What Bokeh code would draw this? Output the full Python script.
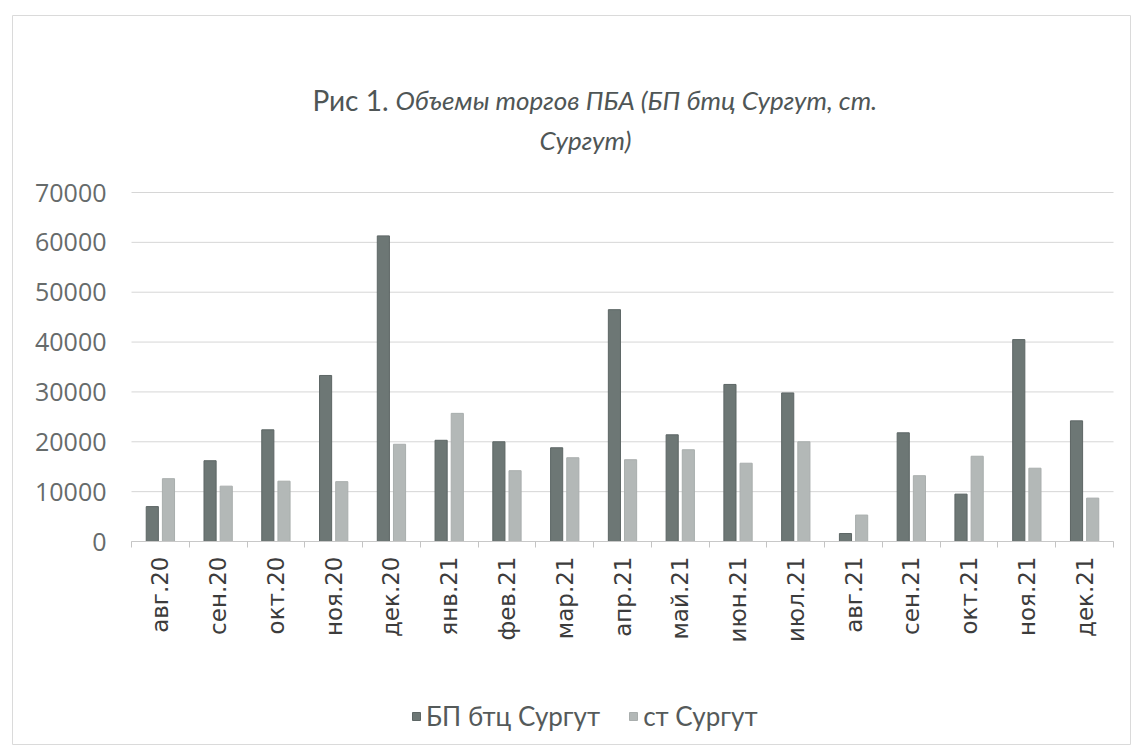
import numpy as np
from bokeh.plotting import figure
from bokeh.models import (ColumnDataSource, Range1d, FixedTicker, Label, Legend, LegendItem)
from bokeh.transform import dodge
from bokeh.embed import file_html
from bokeh.resources import INLINE

# ---- data ----
categories = ["авг.20", "сен.20", "окт.20", "ноя.20", "дек.20", "янв.21", "фев.21", "мар.21",
              "апр.21", "май.21", "июн.21", "июл.21", "авг.21", "сен.21", "окт.21", "ноя.21", "дек.21"]
bp_btc = [7000, 16200, 22400, 33300, 61300, 20300, 20000, 18800, 46500,
          21400, 31500, 29800, 1600, 21800, 9500, 40500, 24200]
st_surgut = [12600, 11100, 12100, 12000, 19500, 25700, 14200, 16800, 16400,
             18400, 15700, 20000, 5300, 13200, 17100, 14700, 8700]
y_ticks = [0, 10000, 20000, 30000, 40000, 50000, 60000, 70000]
series_names = ["БП бтц Сургут", "ст Сургут"]
title_lead = "Рис 1."
title_rest = "Объемы торгов ПБА (БП бтц Сургут, ст."
title_line2 = "Сургут)"

n = len(categories)
ymax = y_ticks[-1]
xpos = list(np.arange(n) + 0.5)
src = ColumnDataSource(dict(x=xpos, cat=categories, bp=bp_btc, st=st_surgut))

# ---- layout (page pixels) ----
FL, FT, FR, FB = 12, 15, 1131, 745      # chart border (= bokeh frame)
PL, PR, PT, PB = 131, 1113, 192, 541    # plot area
px_per_cat = (PR - PL) / n
val_per_px = ymax / (PB - PT)
x_range = Range1d(-(PL - FL) / px_per_cat, n + (FR - PR) / px_per_cat)
y_range = Range1d(-(FB - PB) * val_per_px, ymax + (PT - FT) * val_per_px)

def sx(x):
    return x - FL

def sy(y):
    return FB - y

DARK = "#6d7775"
LIGHT = "#b3b8b7"
TEXT = "#4f5656"

p = figure(width=FR, height=FB, output_backend="svg", toolbar_location=None,
           x_range=x_range, y_range=y_range,
           min_border_left=FL, min_border_top=FT, min_border_right=0, min_border_bottom=0,
           background_fill_color="white", border_fill_color="white")
p.outline_line_color = "#dadada"
p.outline_line_width = 1
p.xgrid.visible = False
p.ygrid.visible = False

# horizontal gridlines across the plot area only
p.segment(x0=0, x1=n, y0=y_ticks, y1=y_ticks, line_color="#d6d6d6", line_width=1)

r1 = p.vbar(x=dodge("x", -0.14, range=p.x_range), top="bp", width=0.21, source=src,
            fill_color=DARK, line_color="#5d6665", line_width=1)
r2 = p.vbar(x=dodge("x", 0.14, range=p.x_range), top="st", width=0.21, source=src,
            fill_color=LIGHT, line_color="#a9aead", line_width=1)

# y axis fixed at the category start
yax = p.yaxis[0]
yax.fixed_location = 0
yax.bounds = (0, ymax)
yax.ticker = FixedTicker(ticks=y_ticks)
yax.axis_line_color = None
yax.major_tick_line_color = None
yax.minor_tick_line_color = None
yax.major_label_standoff = 19
yax.major_label_text_font = "Open Sans"
yax.major_label_text_font_size = "25px"
yax.major_label_text_color = "#666b6b"

# x axis fixed at y = 0: labels at category centres, tick marks between categories
xax = p.xaxis[0]
xax.fixed_location = 0
xax.bounds = (0, n)
xax.ticker = FixedTicker(ticks=xpos, minor_ticks=list(range(n + 1)))
xax.major_label_overrides = {float(xv): c for xv, c in zip(xpos, categories)}
xax.major_tick_line_color = None
xax.major_tick_out = 0
xax.major_tick_in = 0
xax.minor_tick_line_color = "#c4c4c4"
xax.minor_tick_out = 6
xax.minor_tick_in = 0
xax.axis_line_color = "#c8c8c8"
xax.major_label_orientation = np.pi / 2
xax.major_label_standoff = 9
xax.major_label_text_font = "DejaVu Sans"
xax.major_label_text_font_size = "23px"
xax.major_label_text_color = "#3c3c3c"

# title (mixed upright / italic)
split_x = 388
p.add_layout(Label(x=sx(split_x), y=sy(99), x_units="screen", y_units="screen", text=title_lead,
                   text_align="right", text_baseline="alphabetic", text_font="Lato",
                   text_font_size="28px", text_color=TEXT))
p.add_layout(Label(x=sx(split_x + 7), y=sy(99), x_units="screen", y_units="screen", text=title_rest,
                   text_align="left", text_baseline="alphabetic", text_font="Lato",
                   text_font_style="italic", text_font_size="26px", text_color=TEXT))
p.add_layout(Label(x=sx(585), y=sy(139), x_units="screen", y_units="screen", text=title_line2,
                   text_align="center", text_baseline="alphabetic", text_font="Lato",
                   text_font_style="italic", text_font_size="26px", text_color=TEXT))

# legend (tuple location = bottom-left corner in frame screen units)
legend = Legend(items=[LegendItem(label=series_names[0], renderers=[r1]),
                       LegendItem(label=series_names[1], renderers=[r2])],
                location=(sx(411), sy(732)), orientation="horizontal",
                glyph_width=10, glyph_height=10, label_standoff=5, spacing=28,
                padding=0, margin=0, border_line_color=None, background_fill_alpha=0,
                label_text_font="Lato", label_text_font_size="26px", label_text_color="#555a5a")
p.add_layout(legend, "center")

open("out.html", "w").write(file_html(p, INLINE))
